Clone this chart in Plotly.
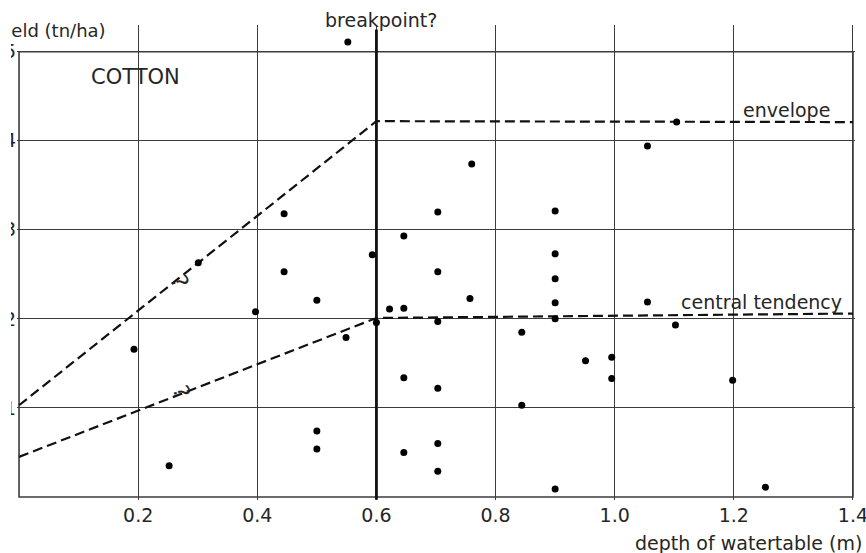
import plotly.graph_objects as go

# observed points: depth of watertable (m) vs yield (tn/ha)
depth = [0.552, 1.104, 1.055, 0.760, 0.445, 0.703, 0.900, 0.646, 0.900, 0.593,
         0.301, 0.445, 0.703, 0.900, 0.500, 0.757, 0.900, 1.055, 0.397, 0.622,
         0.646, 0.600, 0.703, 0.900, 1.102, 0.193, 0.549, 0.844, 0.951, 0.995,
         0.995, 0.646, 0.703, 1.198, 0.844, 0.500, 0.500, 0.252, 0.646, 0.703,
         0.703, 0.900, 1.253]
yield_t = [5.11, 4.21, 3.94, 3.74, 3.18, 3.20, 3.21, 2.93, 2.73, 2.72,
           2.63, 2.53, 2.53, 2.45, 2.21, 2.23, 2.18, 2.19, 2.08, 2.11,
           2.12, 1.96, 1.97, 2.00, 1.93, 1.66, 1.79, 1.85, 1.53, 1.57,
           1.33, 1.34, 1.22, 1.31, 1.03, 0.74, 0.54, 0.35, 0.50, 0.60,
           0.29, 0.09, 0.11]

envelope_x = [0.0, 0.6, 1.4]
envelope_y = [1.03, 4.22, 4.21]
central_x = [0.0, 0.6, 1.4]
central_y = [0.45, 2.01, 2.06]
breakpoint_x = [0.6, 0.6]
breakpoint_y = [-0.03, 5.25]

x_ticks = [0.2, 0.4, 0.6, 0.8, 1.0, 1.2, 1.4]
x_tick_labels = ["0.2", "0.4", "0.6", "0.8", "1.0", "1.2", "1.4"]
y_ticks = [1, 2, 3, 4, 5]
y_tick_labels = ["1", "2", "3", "4", "5"]

FONT = "DejaVu Sans, Verdana, sans-serif"
INK = "#262626"
GRID = "#3c3c3c"

fig = go.Figure()

fig.add_trace(go.Scatter(x=envelope_x, y=envelope_y, mode="lines",
                         line=dict(color="#111111", width=2.2, dash="10px,5px"),
                         hoverinfo="skip", showlegend=False))
fig.add_trace(go.Scatter(x=central_x, y=central_y, mode="lines",
                         line=dict(color="#111111", width=2.2, dash="10px,5px"),
                         hoverinfo="skip", showlegend=False))
fig.add_trace(go.Scatter(x=breakpoint_x, y=breakpoint_y, mode="lines",
                         line=dict(color="#111111", width=2.8),
                         hoverinfo="skip", showlegend=False, cliponaxis=False))
fig.add_trace(go.Scatter(x=depth, y=yield_t, mode="markers",
                         marker=dict(color="black", size=7),
                         showlegend=False, cliponaxis=False))

# frame (axis ranges are padded a little so its edges are not clipped)
fig.add_shape(type="rect", xref="x", yref="y", x0=0, x1=1.4, y0=0, y1=5,
              line=dict(color=GRID, width=1.6), layer="below")

ann_font = dict(family=FONT, size=19, color=INK)
fig.add_annotation(x=0.195, y=4.72, xref="x", yref="y", text="COTTON",
                   showarrow=False, font=dict(family=FONT, size=21, color=INK))
fig.add_annotation(x=0.4344, y=1.0105, xref="paper", yref="paper",
                   text="breakpoint?", showarrow=False, yanchor="middle",
                   xanchor="center", font=ann_font)
fig.add_annotation(x=1.289, y=4.34, xref="x", yref="y", text="envelope",
                   showarrow=False, font=ann_font)
fig.add_annotation(x=1.247, y=2.19, xref="x", yref="y", text="central tendency",
                   showarrow=False, font=ann_font)
fig.add_annotation(x=0.27, y=2.42, xref="x", yref="y", text="?",
                   showarrow=False, textangle=70,
                   font=dict(family=FONT, size=22, color=INK))
fig.add_annotation(x=0.272, y=1.18, xref="x", yref="y", text="?",
                   showarrow=False, textangle=70,
                   font=dict(family=FONT, size=22, color=INK))
fig.add_annotation(x=0.1086, y=0.9874, xref="paper", yref="paper",
                   text="Yield (tn/ha)", showarrow=False, xanchor="right",
                   yanchor="middle", font=dict(family=FONT, size=18, color=INK))
fig.add_annotation(x=1.0107, y=-0.0905, xref="paper", yref="paper",
                   text="depth of watertable (m)", showarrow=False,
                   xanchor="right", yanchor="middle", font=ann_font)
# the scan's blank left strip that cuts the axis labels
fig.add_annotation(x=-0.0203, y=0.5, xref="paper", yref="paper", text=" ",
                   showarrow=False, xanchor="left", yanchor="middle",
                   width=11, height=600, bgcolor="white", borderpad=0,
                   borderwidth=0)

fig.update_layout(
    width=866, height=553,
    margin=dict(l=17, r=11, t=25, b=53, autoexpand=False),
    paper_bgcolor="white", plot_bgcolor="white",
    font=dict(family=FONT, size=19, color=INK),
    xaxis=dict(range=[-0.0034, 1.4034], tickvals=x_ticks, ticktext=x_tick_labels,
               showgrid=True, gridcolor=GRID, gridwidth=1.3,
               zeroline=False, showline=False, ticks="", automargin=False,
               ticklabelstandoff=2, ticklabeloverflow="allow",
               tickfont=dict(family=FONT, size=19, color=INK)),
    yaxis=dict(range=[-0.034, 5.3], tickvals=y_ticks, ticktext=y_tick_labels,
               showgrid=True, gridcolor=GRID, gridwidth=1.3,
               zeroline=False, showline=False, ticks="", automargin=False,
               ticklabelstandoff=0, ticklabeloverflow="allow",
               tickfont=dict(family=FONT, size=19, color=INK)),
)

fig.write_html("out.html",
               config={"displayModeBar": False},
               post_script="document.body.style.margin='0';"
                           "document.body.style.overflow='hidden';")
